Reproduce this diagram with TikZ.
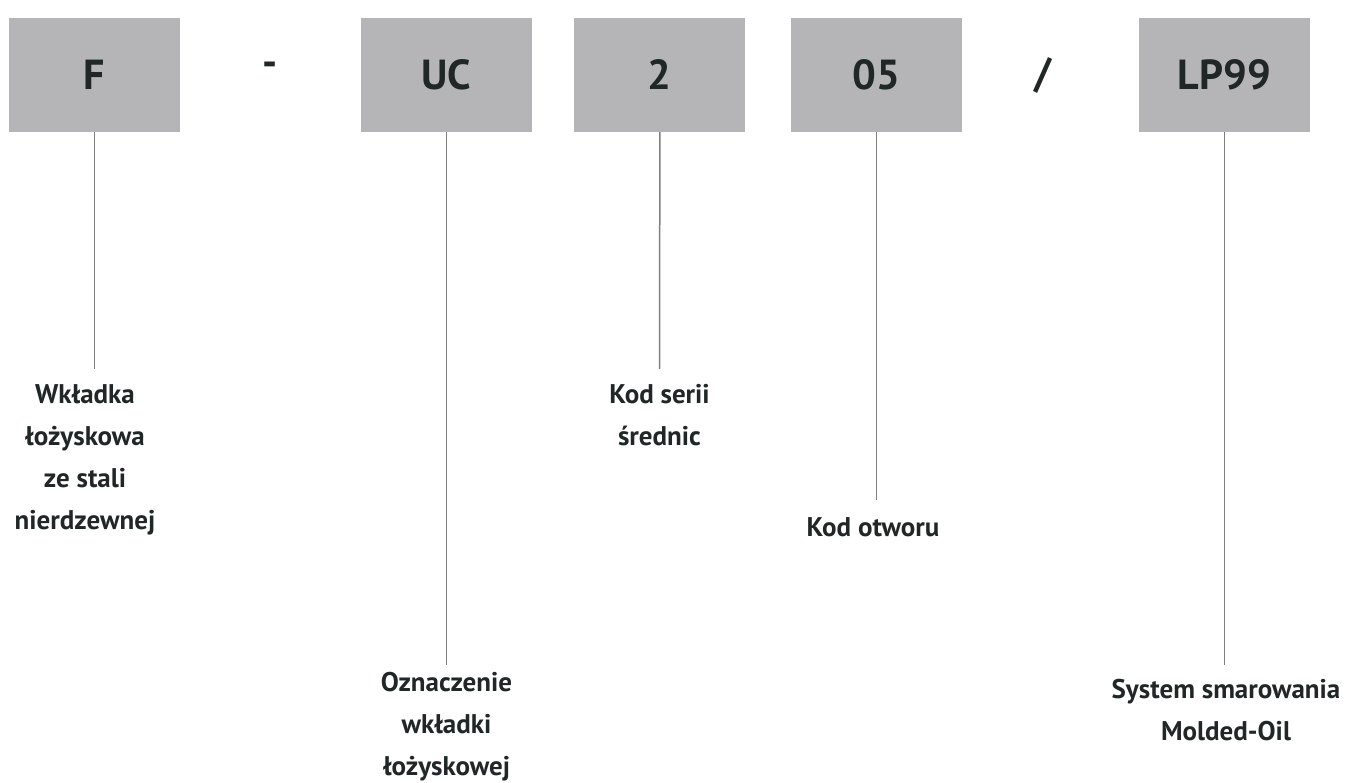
\documentclass[tikz,border=0pt]{standalone}
\usepackage{fontspec}
\setmainfont{PT Sans}
\usetikzlibrary{positioning, calc}
\definecolor{boxgray}{HTML}{B5B5B8}
\definecolor{leadgray}{HTML}{7F7F7F}
\definecolor{ink}{HTML}{212727}
\tikzset{
  codebox/.style  = {rectangle, fill=boxgray, minimum width=171pt, minimum height=114pt,
                     inner sep=0pt, text=ink, font=\fontsize{42}{42}\selectfont\bfseries},
  sep/.style      = {text=ink, font=\fontsize{42}{42}\selectfont\bfseries, inner sep=0pt},
  desc/.style     = {anchor=north, align=center, text=ink, inner sep=0pt,
                     font=\fontsize{27}{42}\selectfont\bfseries},
  lead/.style     = {draw=leadgray, line width=1.5pt},
}
\begin{document}
\begin{tikzpicture}[x=1pt, y=-1pt, node distance=42pt]
  \useasboundingbox (0,0) rectangle (1350,783);

  % code boxes
  \node[codebox] (f) at (94.5,75) {F};
  \node[codebox] (uc) at (446.5,75) {UC};
  \node[codebox, right=42pt of uc] (ser) {2};
  \node[codebox, right=45pt of ser] (bore) {05};
  \node[codebox] (lp) at (1224.5,75) {LP99};

  % separators
  \node[sep] (dash) at ($(f.east)!0.5!(uc.west)+(0,-6)$) {-};
  \node[sep] (slash) at ($(bore.east)!0.46!(lp.west)$) {/};

  % descriptions
  \node[desc] (fl) at (85,384) {Wkładka\\łożyskowa\\ze stali\\nierdzewnej};
  \node[desc] (ucl) at (446.5,672) {Oznaczenie\\wkładki\\łożyskowej};
  \node[desc] (serl) at (659.5,384) {Kod serii\\średnic};
  \node[desc] (borel) at (873,517) {Kod otworu};
  \node[desc] (lpl) at (1226,679) {System smarowania\\Molded-Oil};

  % leader lines
  \draw[lead] (f.south) -- (f.south |- 0,369);
  \draw[lead] (uc.south) -- ($(ucl.north)+(0,-7)$);
  \draw[lead] (ser.south) -- ($(serl.north)+(0,-15)$);
  \draw[lead] (bore.south) -- ($(bore.south |- borel.north)+(0,-17)$);
  \draw[lead] (lp.south) -- ($(lp.south |- lpl.north)+(0,-14)$);
\end{tikzpicture}
\end{document}
